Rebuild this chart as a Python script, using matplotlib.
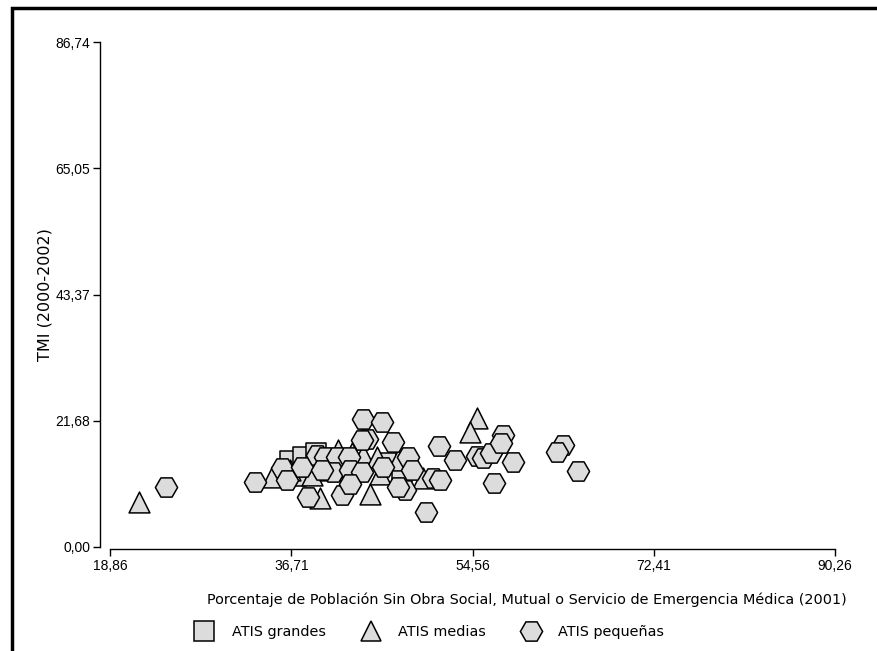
import matplotlib.pyplot as plt
from matplotlib.patches import Rectangle

# ATIS grandes
GRANDES_X = [36.61, 37.89, 39.18, 37.20, 40.56, 42.73, 46.08, 47.66]
GRANDES_Y = [14.78, 15.46, 16.20, 12.20, 14.60, 13.57, 14.43, 12.89]

# ATIS medias
MEDIAS_X = [21.72, 55.05, 54.36, 39.57, 44.50, 34.84, 38.78, 41.35, 42.73,
            43.81, 45.19, 45.49, 47.26, 49.73, 36.61, 40.56]
MEDIAS_Y = [7.73, 22.16, 19.76, 8.42, 9.11, 12.03, 12.37, 16.67, 16.15,
            15.81, 15.46, 12.54, 14.95, 11.86, 13.23, 13.23]

# ATIS pequeñas
PEQ_X = [24.38, 33.16, 35.82, 36.32, 37.80, 39.27, 40.06, 41.25, 40.85, 39.77,
         38.39, 41.74, 43.81, 45.69, 44.21, 43.71, 46.77, 42.43, 48.25, 45.78,
         48.64, 42.53, 43.71, 47.95, 47.26, 50.71, 51.40, 50.02, 51.31, 52.79,
         55.05, 55.64, 56.34, 57.52, 57.32, 58.50, 56.63, 63.44, 62.84, 64.92,
         42.53]
PEQ_Y = [10.31, 11.17, 13.57, 11.51, 13.75, 15.81, 15.46, 15.46, 12.89, 13.23,
         8.59, 8.93, 21.99, 21.48, 18.56, 18.38, 18.04, 15.46, 15.46, 13.75,
         13.23, 13.23, 12.89, 9.79, 10.31, 11.86, 11.51, 6.01, 17.35, 14.95,
         15.64, 15.29, 16.15, 19.24, 17.87, 14.60, 11.00, 17.53, 16.32, 13.06,
         10.82]

X_TICKS = [18.86, 36.71, 54.56, 72.41, 90.26]
Y_TICKS = [0.00, 21.68, 43.37, 65.05, 86.74]

FILL = "#dcdcdc"


def fmt(v):
    return f"{v:.2f}".replace(".", ",")


plt.rcParams["font.family"] = ["Liberation Sans", "DejaVu Sans"]
plt.rcParams["font.size"] = 10

fig = plt.figure(figsize=(8.77, 6.51), dpi=100)
ax = fig.add_axes([110 / 877, 1 - 547 / 651, 725 / 877, 505 / 651])

style = dict(facecolor=FILL, edgecolor="black", linewidths=1.1, zorder=3)
ax.scatter(GRANDES_X, GRANDES_Y, marker="s", s=14 ** 2, **style)
ax.scatter(MEDIAS_X, MEDIAS_Y, marker="^", s=15 ** 2, **style)
ax.scatter(PEQ_X, PEQ_Y, marker="H", s=16 ** 2, **style)

ax.set_xlim(X_TICKS[0], X_TICKS[-1])
ax.set_ylim(Y_TICKS[0], Y_TICKS[-1])
ax.set_xticks(X_TICKS)
ax.set_xticklabels([fmt(v) for v in X_TICKS])
ax.set_yticks(Y_TICKS)
ax.set_yticklabels([fmt(v) for v in Y_TICKS])

for side in ("top", "right"):
    ax.spines[side].set_visible(False)
ax.spines["left"].set_position(("outward", 7.2))
ax.spines["bottom"].set_position(("outward", 1.5))
for side in ("left", "bottom"):
    ax.spines[side].set_linewidth(1.0)
ax.tick_params(direction="out", length=5, width=1.0, pad=2)

ax.set_ylabel("TMI (2000-2002)", labelpad=2, family="DejaVu Sans", fontsize=11.5)
ax.set_xlabel(
    "Porcentaje de Población Sin Obra Social, Mutual o Servicio de Emergencia Médica (2001)",
    family="DejaVu Sans", fontsize=10.4,
)
ax.xaxis.set_label_coords(0.575, -0.09)

handles = [
    plt.Line2D([], [], ls="", marker="s", ms=14, mfc=FILL, mec="black", mew=1.1),
    plt.Line2D([], [], ls="", marker="^", ms=15, mfc=FILL, mec="black", mew=1.1),
    plt.Line2D([], [], ls="", marker="H", ms=16, mfc=FILL, mec="black", mew=1.1),
]
fig.legend(
    handles,
    ["ATIS grandes", "ATIS medias", "ATIS pequeñas"],
    loc="center",
    bbox_to_anchor=(0.487, 1 - 632 / 651),
    ncol=3,
    frameon=False,
    handletextpad=0.9,
    columnspacing=2.1,
    prop={"family": "DejaVu Sans", "size": 10.4},
)

fig.patches.append(
    Rectangle((12 / 877, -0.1), 1.1, 1 - 8 / 651 + 0.1,
              transform=fig.transFigure, fill=False, lw=2.5,
              edgecolor="black")
)

fig.savefig("out.png", dpi=100)
